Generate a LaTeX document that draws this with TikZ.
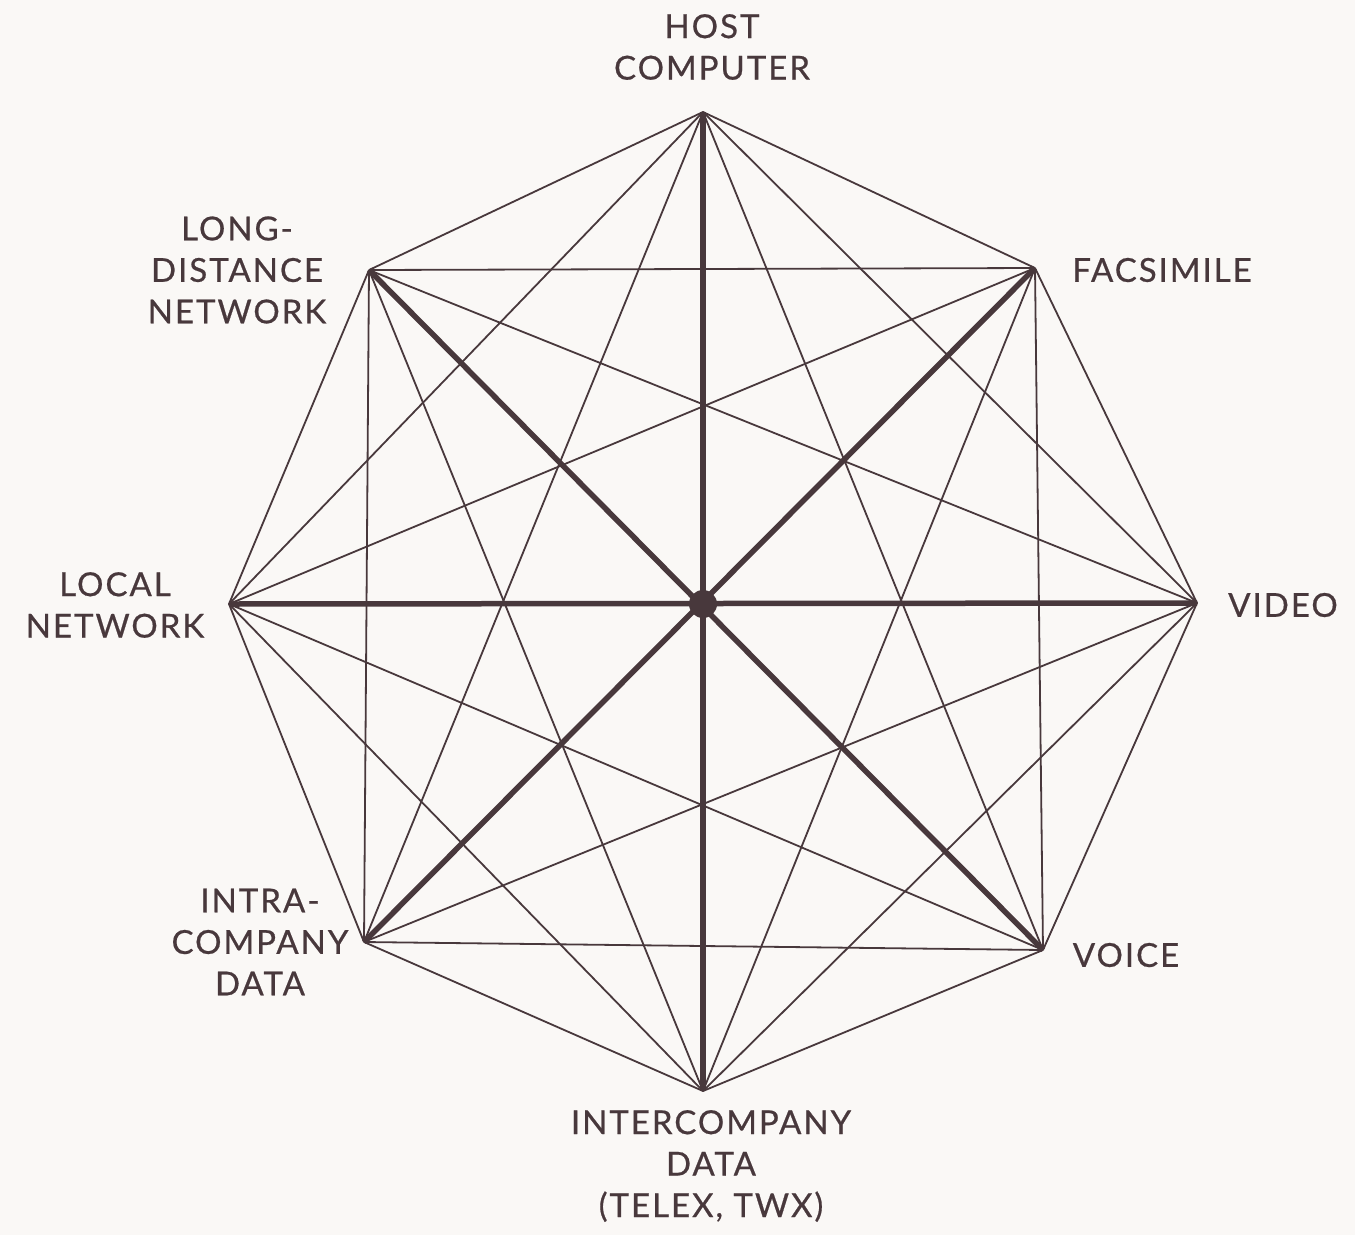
\documentclass[tikz,border=0pt]{standalone}
\usepackage{fontspec}
\setmainfont[LetterSpace=6,FakeBold=0.6]{Lato}
\usetikzlibrary{positioning}
\definecolor{ink}{RGB}{72,56,60}
\definecolor{paper}{RGB}{250,248,246}
\begin{document}
\begin{tikzpicture}[x=1pt, y=-1pt,
  thinlink/.style={ink, line width=1.8pt},
  thicklink/.style={ink, line width=5.5pt},
  lbl/.style={text=ink, inner sep=0pt, align=center, font=\fontsize{33}{41.5}\selectfont}]
\fill[paper] (0,0) rectangle (1355,1235);
% corners of the octagon
\coordinate (host) at (703,112);
\coordinate (fax) at (1035,268);
\coordinate (video) at (1197,603);
\coordinate (voice) at (1043,950);
\coordinate (inter) at (703,1091);
\coordinate (intra) at (364,942);
\coordinate (local) at (229,604);
\coordinate (long) at (369,270);
\coordinate (hub) at (703,604);
% every pair joined
\foreach \a/\b in {host/fax, host/video, host/voice, host/intra, host/local, host/long,
  fax/video, fax/voice, fax/inter, fax/local, fax/long,
  video/voice, video/inter, video/intra, video/long,
  voice/inter, voice/intra, voice/local,
  inter/intra, inter/local, inter/long,
  intra/local, intra/long, local/long}
  \draw[thinlink] (\a) -- (\b);
% diameters
\foreach \a/\b in {host/inter, fax/intra, video/local, voice/long}
  \draw[thicklink] (\a) -- (\b);
\fill[ink] (hub) circle (14);
% labels
\node[lbl] (lhost) at (712,47) {HOST\\COMPUTER};
\node[lbl] (lfax) at (1162,270) {FACSIMILE};
\node[lbl] (lvideo) at (1283,605) {VIDEO};
\node[lbl] (lvoice) at (1126,955) {VOICE};
\node[lbl] (linter) at (711,1166) {INTERCOMPANY\\DATA\\(TELEX, TWX)};
\node[lbl] (lintra) at (260,942) {INTRA-\\COMPANY\\DATA};
\node[lbl] (llocal) at (115,605) {LOCAL\\NETWORK};
\node[lbl] (llong) at (237,270) {LONG-\\DISTANCE\\NETWORK};
\end{tikzpicture}
\end{document}
